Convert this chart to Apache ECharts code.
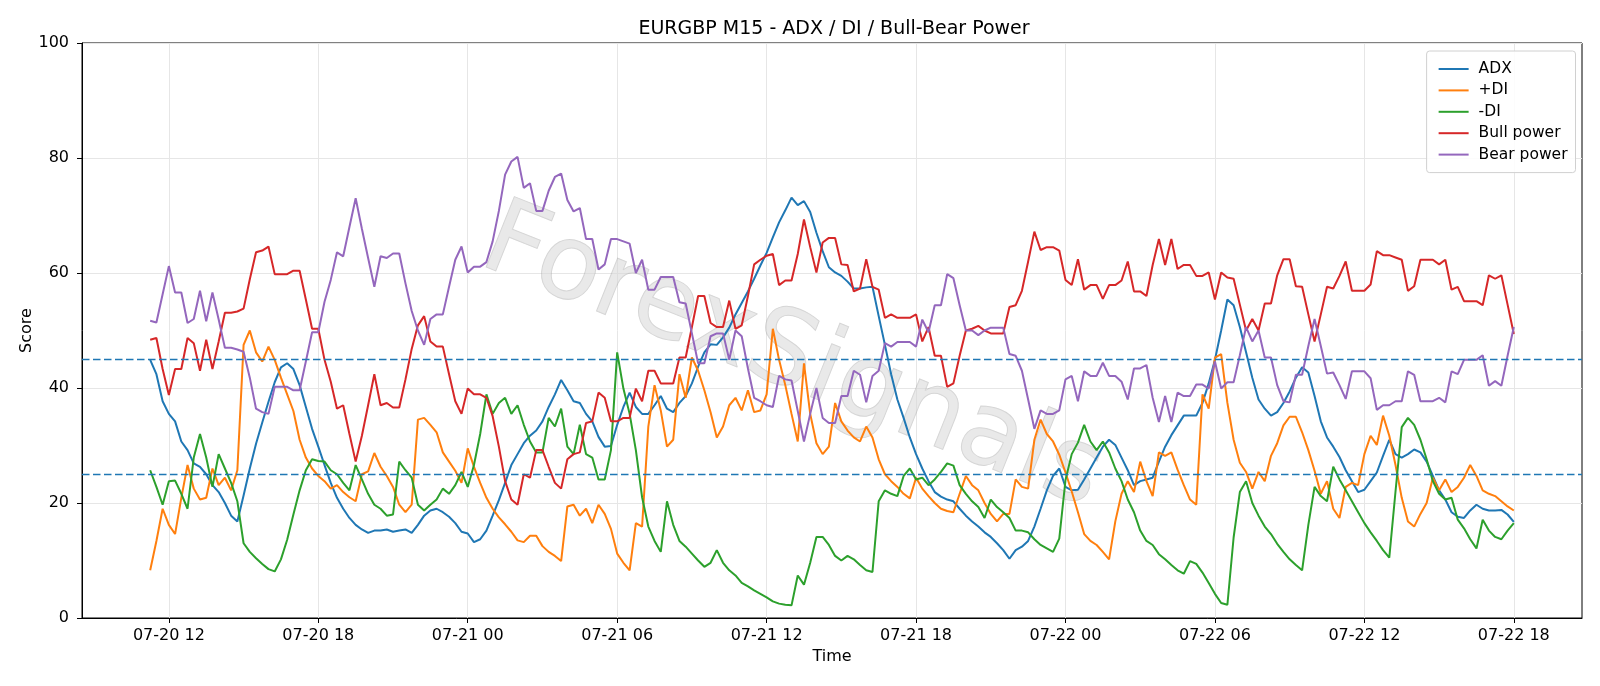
<!DOCTYPE html>
<html>
<head>
<meta charset="utf-8">
<title>EURGBP M15 - ADX / DI / Bull-Bear Power</title>
<script src="https://cdn.jsdelivr.net/npm/echarts@6/dist/echarts.min.js"></script>
<style>
    html, body { margin: 0; padding: 0; background: #fff; }
    #chart { width: 1600px; height: 686px; }
</style>
</head>
<body>
<div id="chart"></div>
<script>
// M15 bars, 07-20 11:15 .. 07-22 18:00 (x in hours since 07-20 00:00)
const startHour = 11.25
const stepHour = 0.25

const tickHours = [12, 18, 24, 30, 36, 42, 48, 54, 60, 66]
const tickLabels = ['07-20 12', '07-20 18', '07-21 00', '07-21 06', '07-21 12',
    '07-21 18', '07-22 00', '07-22 06', '07-22 12', '07-22 18']

const adx = [
    44.9, 42.4, 37.7, 35.5, 34.2, 30.7, 29.2, 26.9, 26.3, 25.0,
    23.1, 21.9, 20.0, 17.8, 16.8, 21.3, 26.0, 30.3, 34.0, 37.6,
    41.0, 43.6, 44.3, 43.3, 40.5, 36.7, 32.9, 29.8, 26.6, 23.5,
    20.9, 19.0, 17.4, 16.2, 15.4, 14.8, 15.2, 15.2, 15.4, 15.0,
    15.2, 15.4, 14.8, 16.2, 17.8, 18.7, 19.0, 18.4, 17.6, 16.5,
    15.0, 14.7, 13.2, 13.7, 15.2, 17.8, 20.5, 23.5, 26.6, 28.5,
    30.4, 31.7, 32.6, 34.2, 36.7, 38.9, 41.4, 39.6, 37.7, 37.4,
    35.5, 34.2, 31.5, 29.8, 29.9, 33.6, 36.7, 39.2, 36.7, 35.5,
    35.5, 37.0, 38.6, 36.4, 35.8, 37.4, 38.6, 40.8, 43.7, 46.2,
    47.6, 47.5, 48.8, 50.5, 52.8, 54.8, 56.8, 59.0, 61.3, 63.5,
    66.2, 68.8, 70.9, 73.1, 71.8, 72.5, 70.6, 67.0, 63.8, 61.0,
    60.1, 59.5, 58.5, 57.3, 57.3, 57.5, 57.6, 52.5, 47.5, 42.4,
    38.0, 34.8, 31.4, 28.5, 26.0, 23.8, 21.9, 21.1, 20.6, 20.3,
    19.0, 17.8, 16.8, 15.9, 14.9, 14.1, 13.0, 11.8, 10.3, 11.8,
    12.4, 13.4, 15.9, 19.0, 22.2, 24.7, 26.0, 22.8, 22.2, 22.3,
    24.1, 26.0, 27.9, 29.8, 31.0, 30.1, 27.9, 25.7, 23.1, 23.8,
    24.1, 24.4, 27.2, 29.8, 31.8, 33.5, 35.2, 35.2, 35.2, 37.4,
    40.8, 44.9, 50.0, 55.4, 54.4, 50.6, 46.2, 41.8, 38.0, 36.4,
    35.2, 35.8, 37.4, 39.4, 41.8, 43.6, 42.7, 38.6, 34.2, 31.4,
    29.8, 28.0, 25.7, 23.8, 21.9, 22.3, 23.8, 25.3, 28.2, 31.0,
    28.5, 27.9, 28.5, 29.3, 28.8, 27.2, 24.7, 22.2, 20.6, 18.4,
    17.6, 17.4, 18.7, 19.7, 19.0, 18.7, 18.7, 18.8, 18.0, 16.7
]

const plusDI = [
    8.3, 13.4, 19.0, 16.2, 14.6, 20.9, 26.6, 22.5, 20.6, 20.9,
    26.0, 23.1, 24.4, 22.2, 25.7, 47.5, 50.0, 46.2, 44.6, 47.2,
    44.9, 41.8, 38.9, 36.0, 31.0, 27.9, 26.0, 24.7, 23.8, 22.5,
    23.1, 21.9, 21.0, 20.3, 25.0, 25.5, 28.7, 26.3, 24.7, 22.8,
    19.7, 18.4, 19.7, 34.5, 34.8, 33.6, 32.3, 28.8, 27.2, 25.6,
    23.5, 29.5, 26.3, 23.5, 20.9, 19.0, 17.5, 16.3, 15.0, 13.5,
    13.2, 14.3, 14.3, 12.5, 11.5, 10.8, 9.9, 19.4, 19.7, 17.8,
    19.0, 16.5, 19.7, 18.1, 15.5, 11.2, 9.6, 8.3, 16.5, 15.9,
    33.3, 40.5, 36.1, 29.8, 31.0, 42.4, 38.3, 45.3, 43.0, 39.6,
    35.8, 31.4, 33.3, 37.0, 38.3, 36.1, 39.6, 35.8, 36.1, 38.9,
    50.3, 44.9, 40.5, 35.5, 30.7, 44.3, 35.5, 30.4, 28.5, 29.8,
    37.4, 34.2, 32.6, 31.4, 30.7, 33.3, 31.4, 27.6, 25.0, 23.8,
    22.8, 21.6, 20.8, 24.4, 22.5, 21.2, 20.0, 19.0, 18.6, 18.4,
    21.6, 24.7, 23.1, 22.2, 20.0, 18.1, 16.8, 18.1, 18.1, 24.1,
    22.8, 22.5, 31.0, 34.5, 32.0, 30.7, 28.4, 25.3, 22.0, 18.4,
    14.6, 13.4, 12.7, 11.5, 10.2, 16.8, 21.6, 23.8, 21.9, 27.2,
    23.8, 21.2, 28.8, 28.2, 28.8, 25.8, 23.1, 20.6, 19.7, 38.9,
    36.4, 45.3, 45.9, 37.4, 31.0, 27.0, 25.4, 22.5, 25.4, 23.8,
    28.2, 30.4, 33.5, 35.0, 35.0, 32.3, 29.2, 25.6, 21.6, 23.8,
    19.0, 17.4, 22.8, 23.5, 23.1, 28.5, 31.7, 30.1, 35.2, 31.7,
    26.6, 20.9, 16.8, 15.9, 18.1, 20.0, 24.4, 22.2, 24.1, 21.9,
    22.8, 24.4, 26.6, 24.7, 22.2, 21.6, 21.2, 20.3, 19.4, 18.7
]

const minusDI = [
    25.7, 22.8, 19.7, 23.8, 23.9, 21.6, 19.0, 27.9, 32.0, 27.9,
    22.8, 28.5, 26.0, 23.5, 20.3, 13.0, 11.5, 10.4, 9.4, 8.5,
    8.1, 10.2, 13.6, 18.0, 22.2, 25.7, 27.6, 27.3, 27.2, 25.7,
    25.0, 23.5, 22.2, 26.6, 24.1, 21.6, 19.7, 19.0, 17.8, 18.0,
    27.2, 25.7, 24.4, 19.7, 18.7, 19.7, 20.6, 22.5, 21.6, 23.1,
    25.4, 22.8, 26.6, 32.0, 38.9, 35.5, 37.4, 38.3, 35.5, 37.0,
    33.6, 30.7, 28.8, 28.8, 34.8, 33.3, 36.4, 29.8, 28.5, 33.6,
    28.5, 27.9, 24.1, 24.1, 29.2, 46.2, 39.9, 35.5, 29.2, 21.0,
    15.9, 13.4, 11.5, 20.3, 16.2, 13.4, 12.4, 11.2, 10.0, 8.9,
    9.6, 11.8, 9.6, 8.3, 7.4, 6.1, 5.5, 4.8, 4.2, 3.6,
    2.9, 2.5, 2.3, 2.2, 7.4, 5.8, 9.6, 14.1, 14.1, 12.7,
    10.8, 10.0, 10.8, 10.2, 9.2, 8.3, 8.0, 20.3, 22.2, 21.6,
    21.2, 24.7, 26.0, 24.1, 24.4, 23.1, 24.1, 25.4, 26.9, 26.5,
    23.1, 21.6, 20.3, 19.3, 17.4, 20.6, 19.3, 18.4, 17.4, 15.2,
    15.2, 14.9, 13.7, 12.7, 12.1, 11.5, 13.8, 24.0, 28.5, 30.5,
    33.6, 30.7, 29.2, 30.7, 28.8, 26.0, 23.8, 20.6, 18.4, 15.2,
    13.4, 12.7, 11.1, 10.2, 9.2, 8.3, 7.7, 9.9, 9.4, 7.9,
    6.1, 4.2, 2.6, 2.3, 14.0, 21.9, 23.8, 20.0, 17.8, 15.9,
    14.6, 12.9, 11.5, 10.2, 9.2, 8.3, 16.2, 22.8, 21.2, 20.3,
    26.3, 24.1, 22.2, 20.3, 18.4, 16.5, 14.9, 13.4, 11.8, 10.5,
    22.0, 33.2, 34.8, 33.6, 31.0, 27.6, 23.8, 21.6, 20.6, 20.9,
    17.1, 15.6, 13.7, 12.1, 17.1, 15.2, 14.1, 13.7, 15.2, 16.5
]

const bullPower = [
    48.4, 48.7, 43.3, 38.8, 43.3, 43.3, 48.7, 47.8, 43.0, 48.4,
    43.3, 48.1, 53.1, 53.1, 53.3, 53.8, 58.9, 63.6, 63.9, 64.6,
    59.8, 59.8, 59.8, 60.4, 60.4, 55.4, 50.3, 50.3, 44.9, 41.1,
    36.4, 37.0, 32.0, 27.2, 31.7, 37.0, 42.4, 37.0, 37.4, 36.6,
    36.6, 41.5, 46.8, 50.9, 52.5, 48.1, 47.2, 47.2, 42.4, 37.7,
    35.5, 39.9, 38.9, 38.9, 38.3, 35.1, 29.8, 23.8, 20.6, 19.7,
    25.0, 24.4, 29.2, 29.2, 26.3, 23.5, 22.5, 27.6, 28.5, 28.8,
    33.9, 34.2, 39.2, 38.3, 34.2, 34.2, 34.8, 34.8, 39.9, 37.7,
    43.0, 43.0, 40.8, 40.8, 40.8, 45.3, 45.3, 50.6, 56.0, 56.0,
    51.3, 50.6, 50.6, 55.2, 50.3, 50.9, 56.0, 61.5, 62.3, 63.0,
    63.3, 57.9, 58.7, 58.7, 63.3, 69.3, 64.5, 60.1, 65.3, 66.1,
    66.1, 61.5, 61.4, 56.8, 57.3, 62.4, 57.6, 57.1, 52.2, 52.8,
    52.2, 52.2, 52.2, 52.8, 48.1, 50.6, 45.6, 45.6, 40.2, 40.8,
    45.6, 50.0, 50.3, 50.8, 50.0, 49.5, 49.5, 49.5, 54.1, 54.4,
    56.9, 62.0, 67.2, 64.0, 64.5, 64.5, 63.9, 58.8, 57.9, 62.4,
    57.1, 57.9, 57.9, 55.5, 57.9, 57.9, 58.7, 62.0, 56.8, 56.8,
    56.0, 61.4, 65.9, 61.4, 65.9, 60.7, 61.4, 61.4, 59.5, 59.5,
    60.1, 55.4, 60.1, 59.2, 59.0, 54.5, 50.0, 52.0, 50.0, 54.7,
    54.7, 59.6, 62.4, 62.4, 57.7, 57.6, 52.8, 48.1, 52.8, 57.6,
    57.3, 59.5, 62.0, 56.9, 56.9, 56.9, 58.0, 63.8, 63.1, 63.1,
    62.7, 62.3, 56.9, 57.7, 62.3, 62.3, 62.3, 61.5, 62.3, 57.1,
    57.6, 55.1, 55.1, 55.1, 54.4, 59.6, 59.0, 59.6, 54.5, 49.4
]

const bearPower = [
    51.7, 51.4, 56.3, 61.2, 56.6, 56.6, 51.3, 52.0, 56.9, 51.6,
    56.6, 51.9, 47.0, 47.0, 46.7, 46.3, 41.8, 36.4, 35.8, 35.5,
    40.2, 40.2, 40.2, 39.6, 39.6, 44.6, 49.7, 49.7, 55.0, 58.8,
    63.6, 62.9, 68.0, 73.0, 67.7, 62.6, 57.6, 62.9, 62.6, 63.4,
    63.4, 58.2, 53.4, 50.0, 47.5, 52.0, 52.8, 52.8, 57.6, 62.3,
    64.6, 60.1, 61.1, 61.1, 61.9, 65.5, 70.8, 77.1, 79.4, 80.2,
    74.8, 75.6, 70.8, 70.8, 74.3, 76.7, 77.3, 72.7, 70.7, 71.3,
    65.9, 65.9, 60.6, 61.5, 65.9, 65.9, 65.5, 65.1, 60.0, 62.3,
    57.1, 57.1, 59.3, 59.3, 59.3, 54.9, 54.7, 49.5, 44.3, 44.3,
    49.0, 49.5, 49.5, 44.9, 50.0, 49.0, 43.4, 38.3, 37.7, 37.0,
    36.7, 42.1, 41.5, 41.3, 36.0, 30.7, 35.5, 40.0, 34.8, 33.9,
    33.9, 38.6, 38.6, 43.0, 42.3, 37.5, 42.1, 43.0, 47.8, 47.2,
    48.0, 48.0, 48.0, 47.2, 51.9, 49.7, 54.4, 54.4, 59.8, 59.1,
    54.4, 50.0, 50.0, 49.2, 50.0, 50.5, 50.5, 50.5, 45.9, 45.6,
    43.0, 38.0, 32.9, 36.1, 35.5, 35.5, 36.1, 41.5, 42.1, 37.7,
    42.9, 42.1, 42.1, 44.4, 42.1, 42.1, 41.1, 38.0, 43.4, 43.4,
    44.0, 38.3, 34.1, 38.6, 34.1, 39.2, 38.6, 38.6, 40.6, 40.6,
    39.9, 44.6, 39.9, 41.0, 41.0, 45.7, 50.6, 48.1, 50.0, 45.3,
    45.3, 40.5, 37.7, 37.5, 42.3, 42.3, 47.3, 52.0, 47.3, 42.5,
    42.7, 40.5, 38.1, 42.9, 42.9, 42.9, 41.7, 36.2, 37.0, 37.0,
    37.7, 37.7, 42.9, 42.3, 37.7, 37.7, 37.7, 38.3, 37.5, 42.9,
    42.4, 44.9, 44.9, 44.9, 45.7, 40.4, 41.2, 40.4, 45.6, 50.6
]

const thresholds = [45, 25]

const hours = adx.map((_, i) => startHour + i * stepHour)
const pairs = (values) => values.map((v, i) => [hours[i], v])

const font = 'DejaVu Sans'
const lineSeries = (name, values, color) => ({
    name,
    type: 'line',
    data: pairs(values),
    symbol: 'none',
    lineStyle: { width: 2, color },
    itemStyle: { color },
    z: 3,
})

const chart = echarts.init(document.getElementById('chart'))

const adxSeries = lineSeries('ADX', adx, '#1f77b4')
adxSeries.markLine = {
    silent: true,
    symbol: ['none', 'none'],
    label: { show: false },
    lineStyle: { color: '#1f77b4', type: [7.5, 3.5], width: 1.4 },
    data: thresholds.map((v) => ({ yAxis: v })),
}

chart.setOption({
    animation: false,
    backgroundColor: '#fff',
    textStyle: { fontFamily: font },
    title: {
        text: 'EURGBP M15 - ADX / DI / Bull-Bear Power',
        left: 829,
        top: 15,
        textAlign: 'center',
        textStyle: { fontFamily: font, fontSize: 19, fontWeight: 'normal', color: '#000' },
    },
    legend: {
        data: ['ADX', '+DI', '-DI', 'Bull power', 'Bear power'],
        orient: 'vertical',
        right: 24.5,
        top: 51,
        icon: 'rect',
        itemWidth: 30,
        itemHeight: 2,
        itemGap: 5.4,
        padding: [10, 8, 10, 12],
        backgroundColor: 'rgba(255,255,255,0.85)',
        borderColor: '#d0d0d0',
        borderWidth: 1,
        borderRadius: 3,
        textStyle: { fontFamily: font, fontSize: 15.5, lineHeight: 16, color: '#000', padding: [0, 0, 0, 5] },
    },
    grid: {
        left: 82,
        right: 18,
        top: 43,
        bottom: 68,
        show: true,
        borderColor: '#000',
        borderWidth: 1,
    },
    xAxis: {
        type: 'value',
        min: 8.5125,
        max: 68.7375,
        name: 'Time',
        nameLocation: 'middle',
        nameGap: 31,
        nameTextStyle: { fontFamily: font, fontSize: 16, color: '#000' },
        axisLine: { show: true, onZero: false, lineStyle: { color: '#000', width: 1 } },
        axisTick: { show: true, length: 5, customValues: tickHours, lineStyle: { color: '#000' } },
        axisLabel: {
            customValues: tickHours,
            margin: 10,
            fontFamily: font,
            fontSize: 16,
            color: '#000',
            formatter: (v) => tickLabels[tickHours.indexOf(v)] || '',
        },
        splitLine: { show: true, lineStyle: { color: '#e6e6e6', width: 1 } },
    },
    yAxis: {
        type: 'value',
        min: 0,
        max: 100,
        interval: 20,
        name: 'Score',
        nameLocation: 'middle',
        nameGap: 47,
        nameMoveOverlap: false,
        nameTextStyle: { fontFamily: font, fontSize: 16, color: '#000' },
        axisLine: { show: true, lineStyle: { color: '#000', width: 1 } },
        axisTick: { show: true, length: 5, lineStyle: { color: '#000' } },
        axisLabel: { margin: 13, fontFamily: font, fontSize: 16, color: '#000' },
        splitLine: { show: true, lineStyle: { color: '#e6e6e6', width: 1 } },
    },
    graphic: [{
        type: 'text',
        x: 792,
        y: 360,
        rotation: -0.38,
        z: 1,
        silent: true,
        style: {
            text: 'ForexSignals',
            font: '104px "DejaVu Sans"',
            fill: 'rgba(215,215,215,0.55)',
            stroke: 'rgba(120,120,120,0.3)',
            lineWidth: 1,
            shadowColor: 'rgba(0,0,0,0.3)',
            shadowBlur: 2,
            shadowOffsetX: -2,
            shadowOffsetY: 2,
            align: 'center',
            verticalAlign: 'middle',
        },
    }],
    series: [
        adxSeries,
        lineSeries('+DI', plusDI, '#ff7f0e'),
        lineSeries('-DI', minusDI, '#2ca02c'),
        lineSeries('Bull power', bullPower, '#d62728'),
        lineSeries('Bear power', bearPower, '#9467bd'),
    ],
})

window.addEventListener('resize', () => chart.resize())
</script>
</body>
</html>
